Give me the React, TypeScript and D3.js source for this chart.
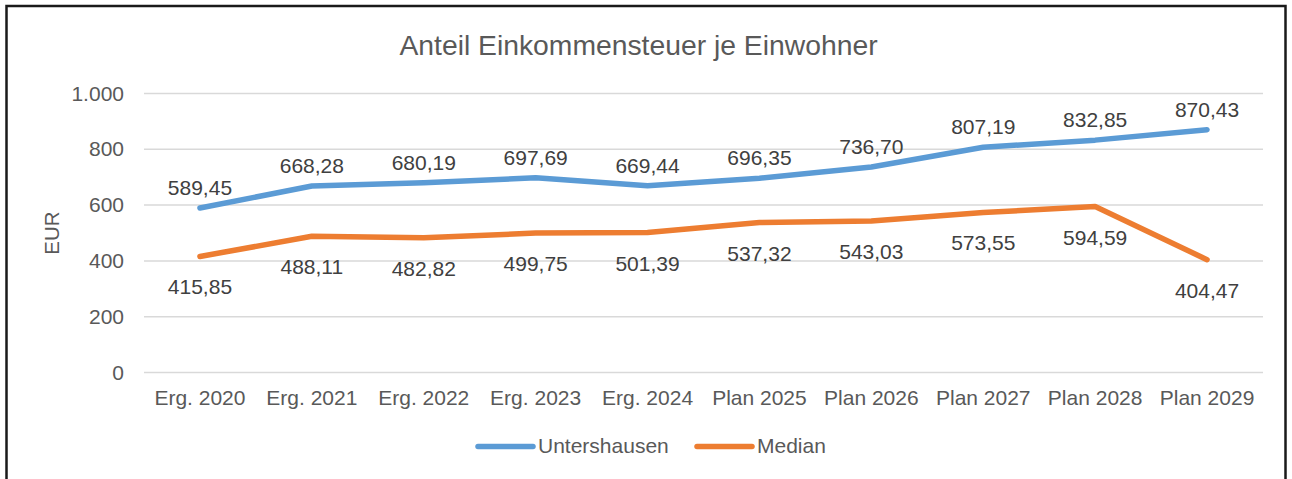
import React from "react";
import * as d3 from "d3";

const categories = ["Erg. 2020","Erg. 2021","Erg. 2022","Erg. 2023","Erg. 2024","Plan 2025","Plan 2026","Plan 2027","Plan 2028","Plan 2029"];
const untershausen = [589.45,668.28,680.19,697.69,669.44,696.35,736.70,807.19,832.85,870.43];
const median = [415.85,488.11,482.82,499.75,501.39,537.32,543.03,573.55,594.59,404.47];
const yTicks = [0,200,400,600,800,1000];
const seriesNames = ["Untershausen","Median"];

const W = 1292, H = 479;
const FONT = "'Liberation Sans', Arial, sans-serif";
const TXT = "#595959";

const de = d3.formatLocale({ decimal: ",", thousands: ".", grouping: [3], currency: ["", " €"] });
const fTick = de.format(",.0f");
const fVal = de.format(",.2f");

export default function App() {
  const x = d3.scalePoint<string>().domain(categories).range([144, 1263]).padding(0.5);
  const y = d3.scaleLinear().domain([0, 1000]).range([372.5, 93.5]);
  const line = d3.line<number>().x((_, i) => x(categories[i]) as number).y(d => y(d));
  const series = [
    { name: seriesNames[0], values: untershausen, color: "#5B9BD5", above: true },
    { name: seriesNames[1], values: median, color: "#ED7D31", above: false },
  ];
  const legendX = [478, 697];
  return (
    <svg width={W} height={H} style={{ position: "absolute", left: 0, top: 0 }} fontFamily={FONT}>
      <rect x={0} y={0} width={W} height={H} fill="#fff" />
      <rect x={6.5} y={6} width={1279} height={H + 10} fill="none" stroke="#1a1a1a" strokeWidth={2.5} />
      <text x={638.5} y={55} textAnchor="middle" fontSize={28.3} fill={TXT}>Anteil Einkommensteuer je Einwohner</text>
      {yTicks.map(t => (
        <g key={t}>
          <line x1={144} x2={1263} y1={y(t)} y2={y(t)} stroke="#d9d9d9" strokeWidth={1.5} />
          <text x={124} y={y(t) + 7} textAnchor="end" fontSize={21} fill={TXT}>{fTick(t)}</text>
        </g>
      ))}
      <text transform={`translate(59,233) rotate(-90)`} textAnchor="middle" fontSize={20.5} fill={TXT}>EUR</text>
      {categories.map(c => (
        <text key={c} x={x(c)} y={405} textAnchor="middle" fontSize={21} fill={TXT}>{c}</text>
      ))}
      {series.map(s => (
        <path key={s.name} d={line(s.values) || ""} fill="none" stroke={s.color} strokeWidth={5.5} strokeLinecap="round" strokeLinejoin="round" />
      ))}
      {series.map(s => s.values.map((v, i) => (
        <text key={s.name + i} x={x(categories[i])} y={s.above ? y(v) - 13 : y(v) + 38} textAnchor="middle" fontSize={21} fill="#404040">{fVal(v)}</text>
      )))}
      {series.map((s, i) => (
        <g key={"lg" + s.name}>
          <line x1={legendX[i]} x2={legendX[i] + 55} y1={446.5} y2={446.5} stroke={s.color} strokeWidth={5.5} strokeLinecap="round" />
          <text x={legendX[i] + 60} y={453} fontSize={21} fill={TXT}>{s.name}</text>
        </g>
      ))}
    </svg>
  );
}
